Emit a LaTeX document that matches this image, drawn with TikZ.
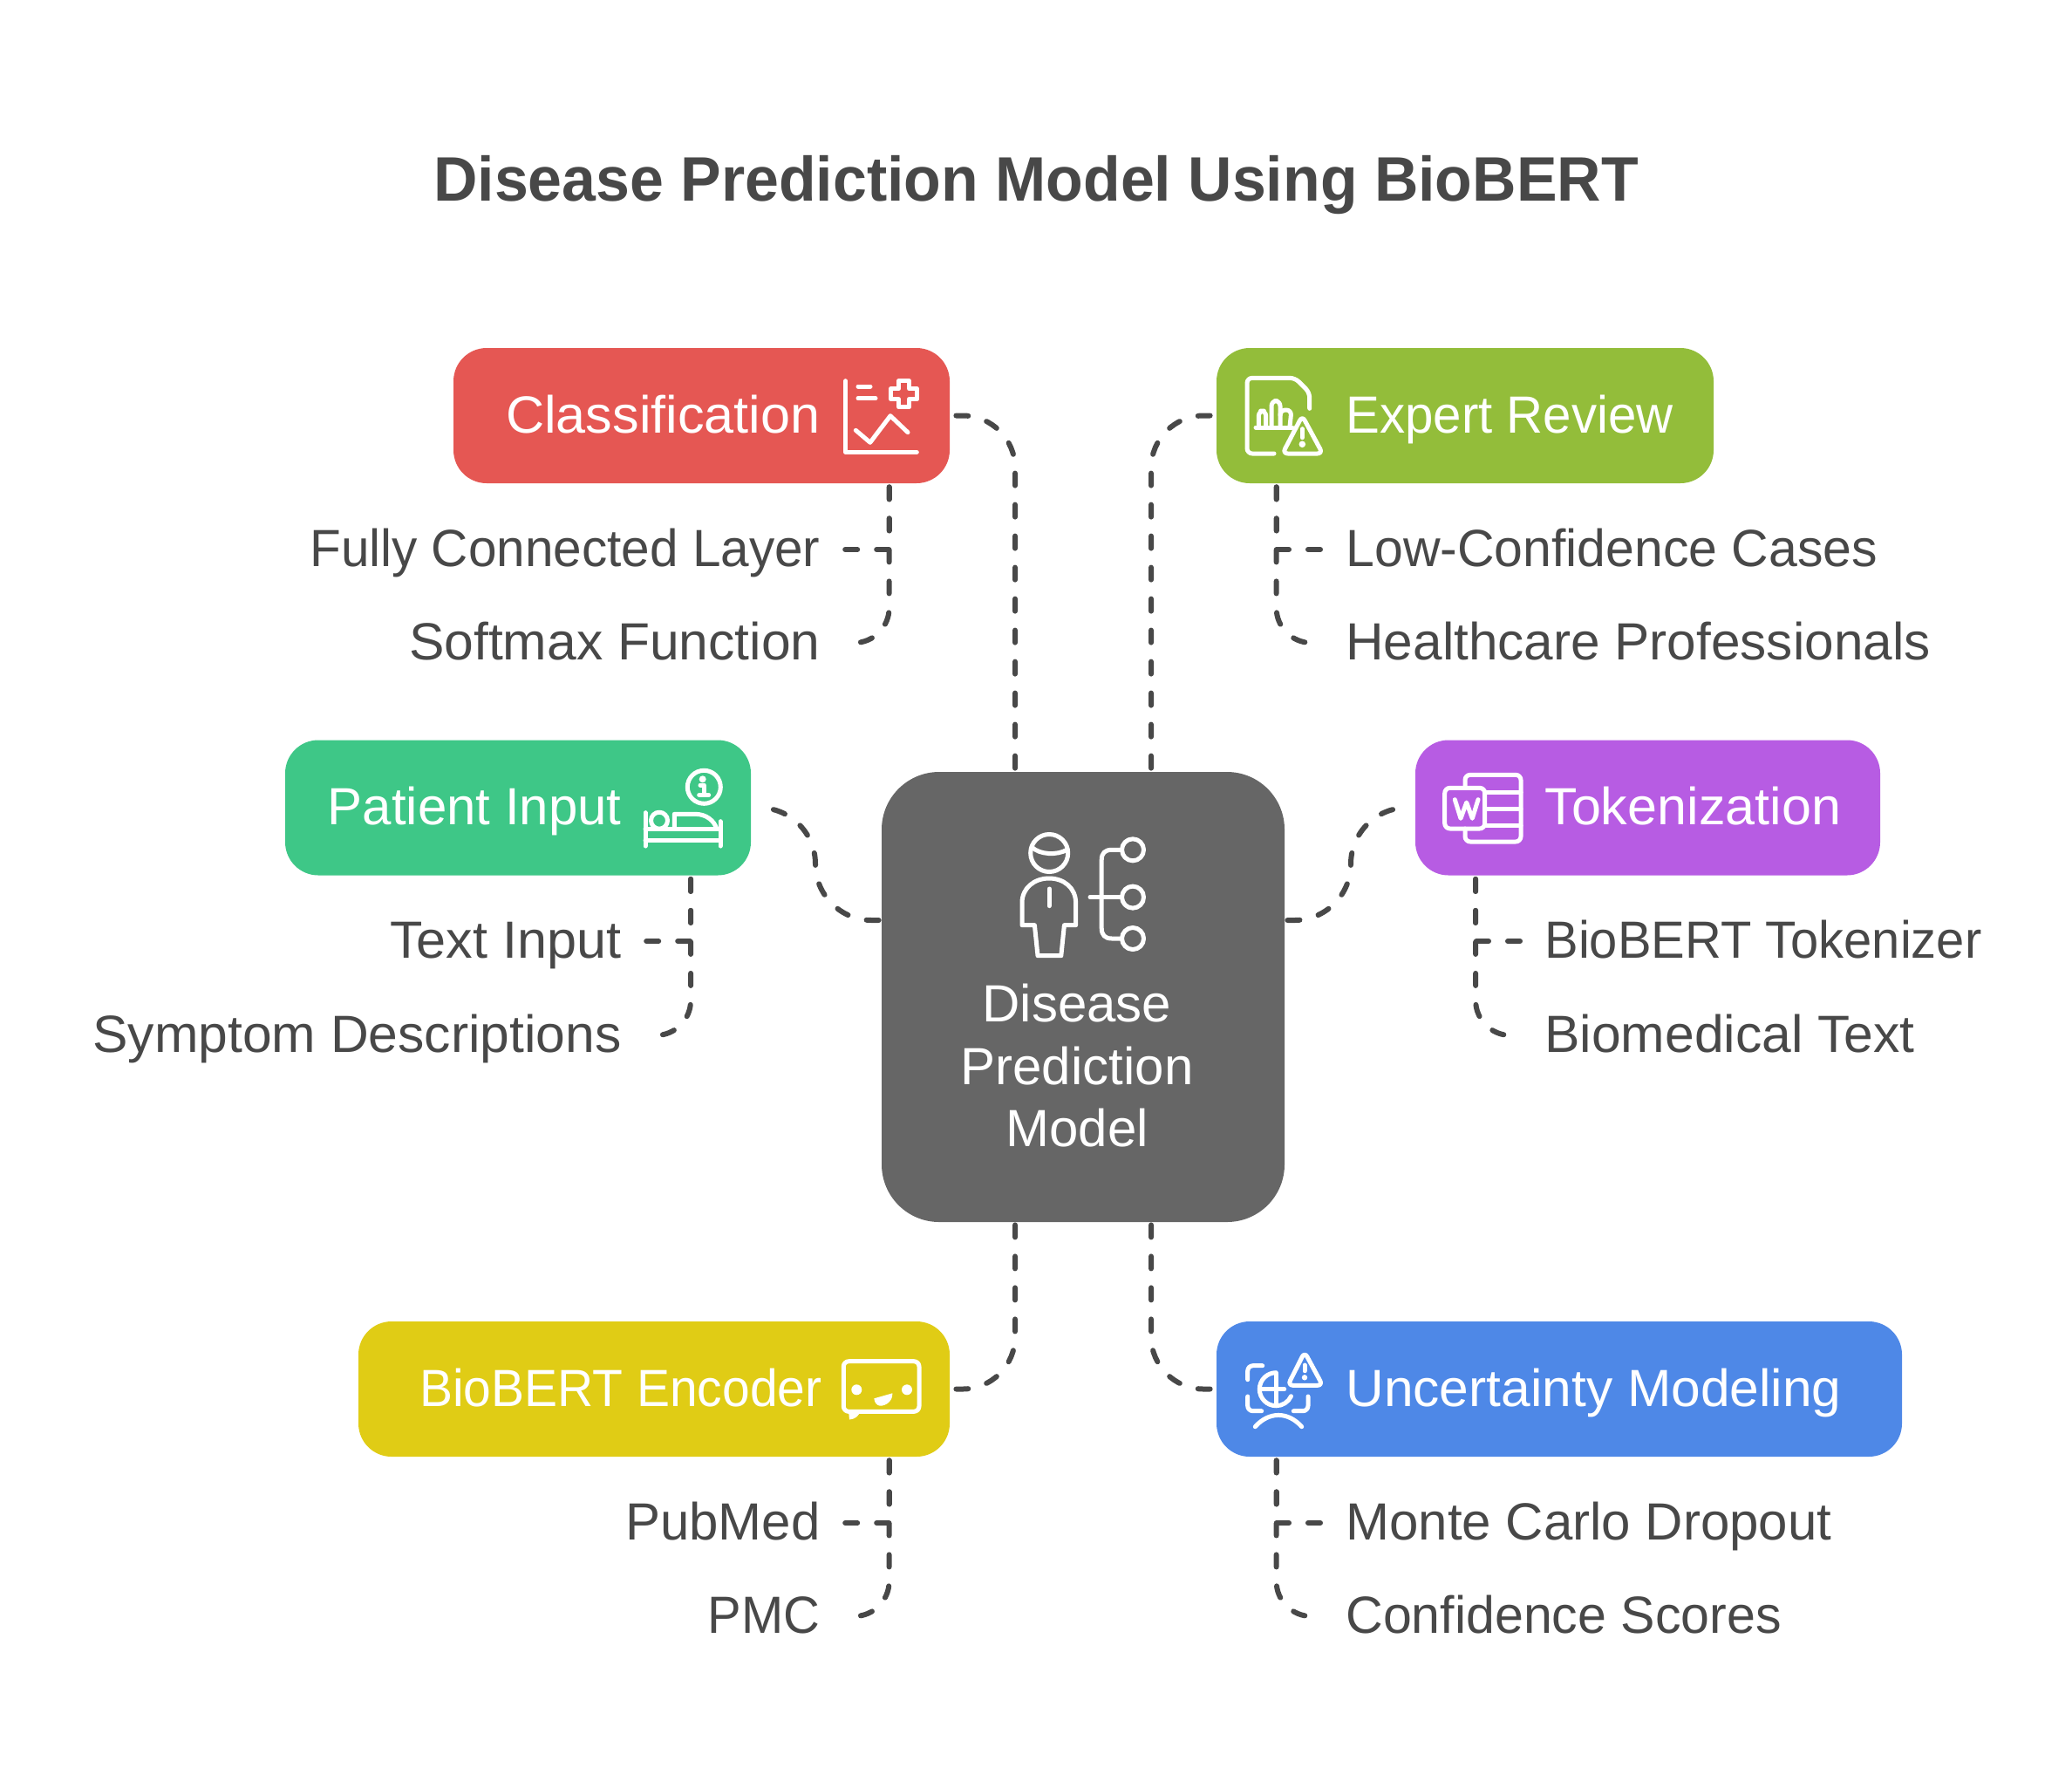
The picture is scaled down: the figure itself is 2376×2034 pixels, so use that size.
\documentclass[tikz,border=0pt]{standalone}
\usepackage{graphicx}
\usepackage{fontspec}
\setmainfont{Liberation Sans}
\usetikzlibrary{calc}
\definecolor{ink}{HTML}{484848}
\definecolor{cred}{HTML}{E55753}
\definecolor{cgreen}{HTML}{93BD3A}
\definecolor{cteal}{HTML}{3EC787}
\definecolor{cpurple}{HTML}{B75CE3}
\definecolor{cyellow}{HTML}{E0CC15}
\definecolor{cblue}{HTML}{4E88E7}
\definecolor{cgrey}{HTML}{666666}
\tikzset{
  box/.style={draw=none,rounded corners=19pt,minimum height=77.5pt,inner sep=0pt},
  lab/.style={text height=24.5pt,text depth=5pt,inner ysep=0pt,inner xsep=13pt,text=ink,font=\fontsize{30}{36}\selectfont},
  boxlab/.style={lab,text=white,inner xsep=0pt},
  conn/.style={draw=ink,line width=3pt,line cap=round,dash pattern=on 7pt off 11pt},
  ico/.style={draw=white,line width=2.5pt,line cap=round,line join=round},
  dotw/.style={fill=white,draw=none},
}
\newcommand\sx[2]{\scalebox{#1}[1]{#2}}
% start, end, vertical sign from corner to start, horizontal sign from corner to end, radius
\newcommand\elbow[5]{\draw[conn] (#1) -- ($(#1 |- #2)+(0,#3*#5)$) .. controls ($(#1 |- #2)+(0,#3*0.45*#5)$) and ($(#1 |- #2)+(#4*0.45*#5,0)$) .. ($(#1 |- #2)+(#4*#5,0)$) -- (#2);}
% start, end, mid coordinate, sign of horizontal direction: S-shaped connector
\newcommand\ess[4]{\draw[conn] (#1) -- ($(#1 -| #3)+(-#4*64.5,0)$) .. controls ($(#1 -| #3)+(-#4*29,0)$) and ($(#1 -| #3)+(0,-29)$) .. ($(#1 -| #3)+(0,-64.5)$) .. controls ($(#2 -| #3)+(0,29)$) and ($(#2 -| #3)+(#4*29,0)$) .. ($(#2 -| #3)+(#4*64.5,0)$) -- (#2);}
\begin{document}
\begin{tikzpicture}[x=0.5pt,y=-0.5pt]
\useasboundingbox (0,0) rectangle (2376,2034);
\node[text=ink,font=\fontsize{36}{40}\selectfont\bfseries,inner sep=0pt] (title) at (1188,212) {\sx{0.97}{Disease Prediction Model Using BioBERT}};
% boxes
\node[box,fill=cgrey,rounded corners=33pt,minimum width=231pt,minimum height=258pt] (ctr) at (1242,1143) {};
\node[box,fill=cred,minimum width=284.5pt] (cls) at (804.5,476.5) {};
\node[box,fill=cgreen,minimum width=285pt] (exp) at (1680,476.5) {};
\node[box,fill=cteal,minimum width=267pt] (pat) at (594,926) {};
\node[box,fill=cpurple,minimum width=266.5pt] (tok) at (1889.5,926) {};
\node[box,fill=cyellow,minimum width=339pt] (bio) at (750,1592.5) {};
\node[box,fill=cblue,minimum width=393pt] (unc) at (1788,1592.5) {};
% box texts
\node[boxlab,anchor=east] (tcls) at (941,476.5) {\sx{1.02}{Classification}};
\node[boxlab,anchor=west] (texp) at (1543,476.5) {\sx{0.97}{Expert Review}};
\node[boxlab,anchor=east] (tpat) at (713,926) {Patient Input};
\node[boxlab,anchor=west] (ttok) at (1771,926) {\sx{1.018}{Tokenization}};
\node[boxlab,anchor=east] (tbio) at (943,1592.5) {\sx{0.95}{BioBERT Encoder}};
\node[boxlab,anchor=west] (tunc) at (1543,1592.5) {\sx{1.008}{Uncertainty Modeling}};
\node[text=white,align=center,inner sep=0pt,font=\fontsize{30}{35.75}\selectfont,anchor=north] (tctr) at (1235,1128) {Disease\\Prediction\\Model};
% labels
\node[lab,anchor=east] (l1) at (967,630) {\sx{0.975}{Fully Connected Layer}};
\node[lab,anchor=east] (l2) at (967,737) {\sx{1.01}{Softmax Function}};
\node[lab,anchor=west] (l3) at (1517,630) {\sx{0.983}{Low-Confidence Cases}};
\node[lab,anchor=west] (l4) at (1517,737) {\sx{1.005}{Healthcare Professionals}};
\node[lab,anchor=east] (l5) at (739,1079) {\sx{1.02}{Text Input}};
\node[lab,anchor=east] (l6) at (739,1187) {\sx{1.01}{Symptom Descriptions}};
\node[lab,anchor=west] (l7) at (1745,1079) {\sx{0.965}{BioBERT Tokenizer}};
\node[lab,anchor=west] (l8) at (1745,1187) {\sx{1.01}{Biomedical Text}};
\node[lab,anchor=east] (l9) at (967,1746) {PubMed};
\node[lab,anchor=east] (l10) at (967,1853) {\sx{0.965}{PMC}};
\node[lab,anchor=west] (l11) at (1517,1746) {Monte Carlo Dropout};
\node[lab,anchor=west] (l12) at (1517,1853) {\sx{0.985}{Confidence Scores}};
% connector end coordinates
\coordinate (ctl) at ($(ctr.north)+(-78,-4)$);
\coordinate (ctr2) at ($(ctr.north)+(78,-4)$);
\coordinate (cbl) at ($(ctr.south)+(-78,3)$);
\coordinate (cbr) at ($(ctr.south)+(78,3)$);
\coordinate (ecls) at ($(cls.east)+(7,0)$);
\coordinate (eexp) at ($(exp.west)+(-7,0)$);
\coordinate (ebio) at ($(bio.east)+(7,0)$);
\coordinate (eunc) at ($(unc.west)+(-7,0)$);
\coordinate (cwl) at ($(ctr.west)+(-3,-88)$);
\coordinate (cer) at ($(ctr.east)+(3,-88)$);
\coordinate (epat) at ($(pat.east)+(4,0)$);
\coordinate (etok) at ($(tok.west)+(-4,0)$);
\coordinate (mL) at (935,990);
\coordinate (mR) at (1549,990);
\coordinate (bcls) at ($(cls.south west)+(500,4)$);
\coordinate (bexp) at ($(exp.south west)+(69,4)$);
\coordinate (bpat) at ($(pat.south west)+(465.5,4)$);
\coordinate (btok) at ($(tok.south west)+(69.5,4)$);
\coordinate (bbio) at ($(bio.south west)+(609,4)$);
\coordinate (bunc) at ($(unc.south west)+(69,4)$);
% main connectors
\elbow{ctl}{ecls}{1}{-1}{60}
\elbow{ctr2}{eexp}{1}{1}{60}
\elbow{cbl}{ebio}{-1}{-1}{60}
\elbow{cbr}{eunc}{-1}{1}{60}
\ess{cwl}{epat}{mL}{-1}
\ess{cer}{etok}{mR}{1}
% branch connectors
\draw[conn] (bcls) |- (l1.east);
\elbow{bcls}{l2.east}{-1}{-1}{40}
\draw[conn] (bexp) |- (l3.west);
\elbow{bexp}{l4.west}{-1}{1}{40}
\draw[conn] (bpat) |- (l5.east);
\elbow{bpat}{l6.east}{-1}{-1}{40}
\draw[conn] (btok) |- (l7.west);
\elbow{btok}{l8.west}{-1}{1}{40}
\draw[conn] (bbio) |- (l9.east);
\elbow{bbio}{l10.east}{-1}{-1}{40}
\draw[conn] (bunc) |- (l11.west);
\elbow{bunc}{l12.west}{-1}{1}{40}
% icon: centre
\draw[ico] (1203.2,978) circle[radius=10.75pt];
\draw[ico] (1183,971) .. controls (1192,980) and (1212,981) .. (1224,974);
\draw[ico] (1190,1095.7) -- (1216.8,1095.7) -- (1220.4,1060.7) -- (1233.6,1060.7) -- (1233.6,1035) .. controls (1233.6,1018) and (1220,1007) .. (1203,1007) .. controls (1186,1007) and (1172,1018) .. (1172,1035) -- (1172,1060.7) -- (1186.4,1060.7) -- cycle;
\draw[ico] (1203.2,1019) -- (1203.2,1038.6);
\draw[ico] (1250,1028.6) -- (1286,1028.6);
\draw[ico] (1286,974.3) -- (1275,974.3) .. controls (1267,974.3) and (1263.2,978) .. (1263.2,986) -- (1263.2,1064) .. controls (1263.2,1072) and (1267,1076) .. (1275,1076) -- (1286,1076);
\foreach \yy in {974.3,1028.6,1076} \draw[ico] (1299,\yy) circle[radius=6.25pt];
% icon: classification
\draw[ico] (969.6,436.7) -- (969.6,518.3) -- (1051.3,518.3);
\draw[ico] (984,443) -- (998,443);
\draw[ico] (984,456.7) -- (1004,456.7);
\draw[ico] (1030.6,436.7) -- (1042.6,436.7) -- (1042.6,445.7) -- (1051.6,445.7) -- (1051.6,457.7) -- (1042.6,457.7) -- (1042.6,466.7) -- (1030.6,466.7) -- (1030.6,457.7) -- (1021.6,457.7) -- (1021.6,445.7) -- (1030.6,445.7) -- cycle;
\draw[ico] (981.3,493.3) -- (997.8,507.3) -- (1021,476.7) -- (1041,495.7);
% icon: expert review
\draw[ico,rounded corners=3pt] (1461,520) -- (1430,520) -- (1430,433.3) -- (1485,433.3) -- (1501.7,450) -- (1501.7,468.3);
\draw[ico] (1440,490) -- (1482,490);
\draw[ico,rounded corners=3pt] (1443.3,489) -- (1443.3,471) -- (1451.7,471) -- (1451.7,489);
\draw[ico,rounded corners=3pt] (1458,489) -- (1458,459.5) -- (1468,459.5) -- (1468,489);
\draw[ico,rounded corners=3pt] (1468,475) -- (1468,470) -- (1481,470) -- (1479,489);
\draw[ico,rounded corners=3pt] (1493.3,476.7) -- (1516.7,520) -- (1470.7,520) -- cycle;
\draw[ico] (1493.3,491.7) -- (1493.3,501.7);
\fill[dotw] (1493.3,509.3) circle[radius=1.9pt];
% icon: patient input
\draw[ico] (807.3,902.3) circle[radius=9.5pt];
\fill[dotw] (805.7,893.3) circle[radius=2pt];
\draw[ico] (803,900) -- (807.3,900) -- (807.3,911);
\draw[ico] (801.7,911.5) -- (812.7,911.5);
\draw[ico] (740,931.7) -- (740,970);
\draw[ico] (826,941.7) -- (826,970);
\draw[ico] (740,950) -- (826,950);
\draw[ico] (740,963.3) -- (826,963.3);
\draw[ico] (756,940.7) circle[radius=4.75pt];
\draw[ico] (773.3,950) -- (773.3,933.3) -- (797,933.3) .. controls (810,933.3) and (819,941) .. (821.7,950);
% icon: tokenization
\draw[ico,rounded corners=3pt] (1680,903.3) -- (1680,888.3) -- (1744,888.3) -- (1744,965) -- (1680,965) -- (1680,950);
\draw[ico] (1703,908) -- (1744,908);
\draw[ico] (1703,927) -- (1744,927);
\draw[ico] (1703,946.7) -- (1744,946.7);
\draw[ico,rounded corners=3pt] (1656.7,903.3) rectangle (1702.7,950);
\draw[ico] (1668.3,916.7) -- (1675,938.3) -- (1681.7,920) -- (1688.3,938.3) -- (1695,916.7);
% icon: biobert encoder
\draw[ico,rounded corners=3pt] (967.3,1560.7) rectangle (1054,1618.3);
\fill[dotw] (973,1617) -- (986.7,1617) .. controls (985,1624) and (980,1627) .. (974,1627.5) -- cycle;
\fill[dotw] (982.3,1593.3) circle[radius=3pt];
\fill[dotw] (1040,1593.3) circle[radius=3pt];
\fill[dotw] (1002.3,1603.3) -- (1023.3,1597.3) .. controls (1024,1606) and (1016,1612) .. (1009,1611.7) .. controls (1005,1611) and (1003,1608) .. cycle;
% icon: uncertainty
\draw[ico,rounded corners=3pt] (1430.7,1581.7) -- (1430.7,1565.7) -- (1447.7,1565.7);
\draw[ico,rounded corners=3pt] (1430.7,1601) -- (1430.7,1617.7) -- (1446.7,1617.7);
\draw[ico,rounded corners=3pt] (1483.3,1617.7) -- (1500,1617.7) -- (1500,1601);
\draw[ico] (1463.3,1573.7) arc[start angle=90,end angle=335,radius=9.5pt];
\draw[ico] (1463.3,1575) -- (1463.3,1611.7);
\draw[ico] (1445,1592.7) -- (1472.7,1592.7);
\draw[ico,rounded corners=3pt] (1496,1550) -- (1516.7,1588.3) -- (1476.7,1588.3) -- cycle;
\draw[ico] (1496,1565) -- (1496,1571.7);
\fill[dotw] (1496,1579.3) circle[radius=1.6pt];
\draw[ico] (1439.3,1635.7) .. controls (1455,1618) and (1477,1618) .. (1492.7,1635.7);
\end{tikzpicture}
\end{document}
